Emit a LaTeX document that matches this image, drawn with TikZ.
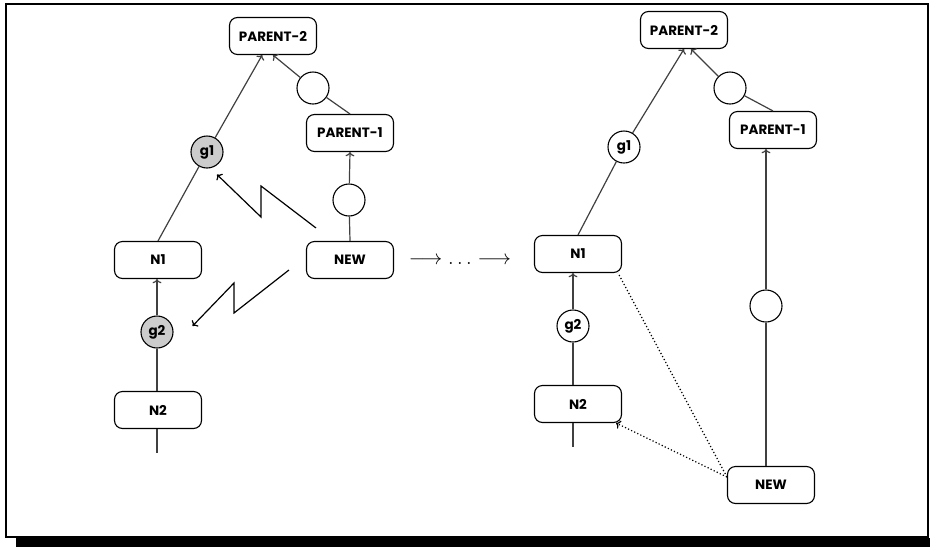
\documentclass[tikz,border=0pt]{standalone}
\usepackage{amsmath,amssymb}
\usepackage{fontspec}
\setmainfont{Poppins}
\usetikzlibrary{positioning,arrows.meta,calc}

\begin{document}
\begin{tikzpicture}[x=1pt,y=-1pt,
    boite/.style={draw,line width=1.1pt,rounded corners=8pt,fill=white,minimum width=87pt,minimum height=37pt,font=\fontsize{13.5}{15}\selectfont\bfseries},
    rond/.style={circle,draw,line width=1.1pt,fill=white,minimum size=32pt,inner sep=0pt,font=\fontsize{13.5}{15}\selectfont\bfseries},
    grise/.style={rond,fill=black!20},
    lien/.style={black!75,line width=1.2pt},
    pointille/.style={black,line width=1.2pt,dash pattern=on 1.2pt off 2.2pt}]
    \useasboundingbox (0,0) rectangle (930,547);

    % Cadre et ombre
    \draw[line width=2pt] (6,4) rectangle (928,537);
    \fill (16,538) rectangle (930,547);

    % Avant : noeuds
    \node[boite] (P2) at (273,36) {PARENT-2};
    \node[boite] (P1) at (350,133) {PARENT-1};
    \node[rond] (c1) at (313,88) {};
    \node[grise] (g1) at (207,152) {g1};
    \node[rond] (c2) at (349,200) {};
    \node[boite] (NEW) at (350,260) {NEW};
    \node[boite] (N1) at (158,260) {N1};
    \node[grise] (g2) at (157,332) {g2};
    \node[boite] (N2) at (158,410) {N2};
    \coordinate (b1) at (157,453);

    % Avant : liens
    \draw[lien] (N1.north) -- (g1);
    \draw[lien,->] (g1) -- (P2);
    \draw[lien] (P1.north) -- (c1);
    \draw[lien,->] (c1) -- (P2.south);
    \draw[lien] (NEW.north) -- (c2);
    \draw[lien,->] (c2) -- (P1.south);
    \draw[lien,->] (g2) -- (g2 |- N1.south);
    \draw[lien] (g2) -- (g2 |- N2.north);
    \draw[lien] (g2 |- N2.south) -- (b1);

    % Eclairs
    \coordinate (z1) at ([xshift=10pt,yshift=13pt]NEW.north west);
    \draw[line width=1.2pt,->] (z1) -- (261,186) -- (261,217) -- ([xshift=10pt,yshift=-6pt]g1.south);
    \coordinate (z2) at ([xshift=-17pt,yshift=-10pt]NEW.west);
    \draw[line width=1.2pt,->] (z2) -- (234,313) -- (234,283) -- ([xshift=19pt,yshift=6pt]g2.east);

    % Transition
    \node (fleche) at (460,261) {\fontsize{20}{24}\selectfont$\longrightarrow\ldots\longrightarrow$};

    % Apres : noeuds
    \node[boite] (P2r) at (684,30) {PARENT-2};
    \node[rond] (c1r) at (730,88) {};
    \node[boite] (P1r) at (773,130) {PARENT-1};
    \node[rond] (g1r) at (624,147) {g1};
    \node[boite] (N1r) at (578,254) {N1};
    \node[rond] (g2r) at (573,326) {g2};
    \node[boite] (N2r) at (578,404) {N2};
    \node[rond] (c2r) at (766,306) {};
    \node[boite] (NEWr) at (771,485) {NEW};
    \coordinate (b2) at (573,447);

    % Apres : liens
    \draw[lien] (N1r.north) -- (g1r);
    \draw[lien,->] (g1r) -- (P2r.south);
    \draw[lien] (P1r.north) -- (c1r);
    \draw[lien,->] (c1r) -- ([xshift=7pt]P2r.south);
    \draw[lien] (c2r |- NEWr.north) -- (c2r);
    \draw[lien,->] (c2r) -- (c2r |- P1r.south);
    \draw[lien,->] (g2r) -- (g2r |- N1r.south);
    \draw[lien] (g2r) -- (g2r |- N2r.north);
    \draw[lien] (g2r |- N2r.south) -- (b2);

    % Pointilles
    \draw[pointille] ([yshift=8pt]NEWr.west) -- ([xshift=-4pt]N1r.south east);
    \draw[pointille,->] ([yshift=8pt]NEWr.west) -- ([xshift=-6pt]N2r.south east);
\end{tikzpicture}
\end{document}
